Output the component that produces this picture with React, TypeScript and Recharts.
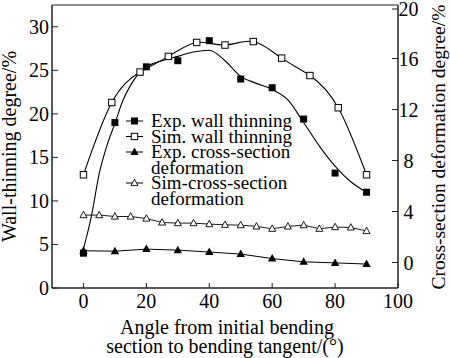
import React from 'react';
import { ComposedChart, Line, XAxis, YAxis, ReferenceArea } from 'recharts';

// measured points (angle in degrees)
const expAngles = [0, 10, 20, 30, 40, 50, 60, 70, 80, 90];
const expWall = [4.0, 19.0, 25.4, 26.1, 28.4, 24.0, 23.0, 19.4, 13.2, 11.0];
const expCross = [0.92, 0.89, 1.05, 0.97, 0.82, 0.66, 0.31, 0.05, -0.03, -0.12];

const simAngles = [0, 9, 18, 27, 36, 45, 54, 63, 72, 81, 90];
const simWall = [13.0, 21.3, 24.8, 26.6, 28.2, 27.9, 28.3, 26.4, 24.4, 20.7, 13.0];

const simCrossAngles = [0, 5, 10, 15, 20, 25, 30, 35, 40, 45, 50, 55, 60, 65, 70, 75, 80, 85, 90];
const simCross = [3.72, 3.72, 3.61, 3.61, 3.45, 3.14, 3.09, 3.09, 3.01, 2.96, 2.93, 2.83, 2.65, 2.83, 2.93, 2.65, 2.78, 2.75, 2.47];

// fitted curve through the experimental wall thinning
const fitAngles = [0, 2.5, 5, 7.5, 10, 12.5, 15, 17.5, 20, 25, 30, 35, 40, 45, 50, 55, 60, 65, 70, 75, 80, 85, 90];
const expFit = [4.5, 8.2, 13.1, 16.4, 18.9, 21.5, 23.3, 24.6, 25.4, 26.1, 26.6, 27.1, 27.3, 26.1, 24.3, 23.5, 22.8, 21.6, 19.0, 16.3, 14.0, 12.2, 11.0];

const xTicks = [0, 20, 40, 60, 80, 100];
const leftTicks = [0, 5, 10, 15, 20, 25, 30];
const rightTicks = [0, 4, 8, 12, 16, 20];

const legendItems = ['Exp. wall thinning', 'Sim. wall thinning', 'Exp. cross-section', 'deformation', 'Sim-cross-section', 'deformation'];

const zip = (xs: number[], ys: number[]) => xs.map((x, i) => ({ x, y: ys[i] }));

const txt = { fontFamily: 'Liberation Serif, DejaVu Serif, serif' };
const axisColor = '#222';

const FilledSquare = (p: any) => (
  <rect key={p.key ?? p.index} x={p.cx - 3.5} y={p.cy - 3.5} width={7} height={7} fill="#000" />
);
const OpenSquare = (p: any) => (
  <rect key={p.key ?? p.index} x={p.cx - 3.2} y={p.cy - 3.2} width={6.4} height={6.4} fill="#fff" stroke="#000" strokeWidth={1} />
);
const FilledTriangle = (p: any) => (
  <polygon key={p.key ?? p.index} points={`${p.cx},${p.cy - 4.5} ${p.cx + 4.2},${p.cy + 3} ${p.cx - 4.2},${p.cy + 3}`} fill="#000" />
);
const OpenTriangle = (p: any) => (
  <polygon key={p.key ?? p.index} points={`${p.cx},${p.cy - 3.8} ${p.cx + 3.5},${p.cy + 2.6} ${p.cx - 3.5},${p.cy + 2.6}`} fill="#fff" stroke="#000" strokeWidth={0.9} />
);

const BottomTick = (p: any) => (
  <g>
    <line x1={p.x} x2={p.x} y1={p.y} y2={p.y - 5} stroke={axisColor} />
    <text x={p.x} y={p.y + 19.5} textAnchor="middle" style={txt} fontSize={20} fill="#000">{p.payload.value}</text>
  </g>
);
const LeftTick = (p: any) => (
  <g>
    <line x1={p.x} x2={p.x + 6} y1={p.y} y2={p.y} stroke={axisColor} />
    <text x={p.x - 3} y={p.y + 7} textAnchor="end" style={txt} fontSize={20} fill="#000">{p.payload.value}</text>
  </g>
);
const RightTick = (p: any) => (
  <g>
    <line x1={p.x} x2={p.x - 6} y1={p.y} y2={p.y} stroke={axisColor} />
    <text x={p.x + 10.5} y={p.y + 7} textAnchor="middle" style={txt} fontSize={20} fill="#000">{p.payload.value}</text>
  </g>
);

const legendMarkers = [FilledSquare, OpenSquare, FilledTriangle, null, OpenTriangle, null];
const legendBaselines = [127, 142.5, 158, 173.5, 189, 205];

export default function App() {
  return (
    <div style={{ position: 'absolute', left: 0, top: 0, width: 450, height: 358, background: '#fff', ...txt }}>
      <ComposedChart width={450} height={358} margin={{ top: 5, right: 0, bottom: 0, left: 0 }}>
        <XAxis
          type="number"
          dataKey="x"
          domain={[-10, 100]}
          ticks={xTicks}
          height={70}
          tickSize={0}
          tickMargin={0}
          tickLine={false}
          tick={<BottomTick />}
          stroke={axisColor}
          allowDuplicatedCategory={false}
        />
        <YAxis
          yAxisId="left"
          type="number"
          domain={[0, 32.5]}
          ticks={leftTicks}
          width={52}
          tickSize={0}
          tickMargin={0}
          tickLine={false}
          tick={<LeftTick />}
          stroke={axisColor}
        />
        <YAxis
          yAxisId="right"
          orientation="right"
          type="number"
          domain={[-2, 20.2]}
          ticks={rightTicks}
          width={52}
          tickSize={0}
          tickMargin={0}
          tickLine={false}
          tick={<RightTick />}
          stroke={axisColor}
        />
        <ReferenceArea yAxisId="left" x1={-10} x2={100} y1={0} y2={32.5} fill="none" stroke={axisColor} strokeWidth={1} />
        <Line yAxisId="left" data={zip(fitAngles, expFit)} dataKey="y" type="monotone" stroke="#000" strokeWidth={1.1} dot={false} isAnimationActive={false} />
        <Line yAxisId="left" data={zip(simAngles, simWall)} dataKey="y" type="natural" stroke="#000" strokeWidth={1.1} dot={OpenSquare} activeDot={false} isAnimationActive={false} />
        <Line yAxisId="left" data={zip(expAngles, expWall)} dataKey="y" type="linear" stroke="none" dot={FilledSquare} activeDot={false} isAnimationActive={false} />
        <Line yAxisId="right" data={zip(expAngles, expCross)} dataKey="y" type="linear" stroke="#000" strokeWidth={1} dot={FilledTriangle} activeDot={false} isAnimationActive={false} />
        <Line yAxisId="right" data={zip(simCrossAngles, simCross)} dataKey="y" type="linear" stroke="#000" strokeWidth={0.9} dot={OpenTriangle} activeDot={false} isAnimationActive={false} />
      </ComposedChart>
      <svg width={450} height={358} style={{ position: 'absolute', left: 0, top: 0, pointerEvents: 'none' }}>
        {legendItems.map((t, i) => {
          const M = legendMarkers[i];
          const cy = legendBaselines[i] - 6;
          return (
            <g key={i}>
              {M && <line x1={126} x2={143} y1={cy} y2={cy} stroke="#000" strokeWidth={1} />}
              {M && <M cx={134.5} cy={cy} index={i} />}
              <text x={151} y={legendBaselines[i]} style={txt} fontSize={19} fill="#000">{t}</text>
            </g>
          );
        })}
        <text transform="translate(15.5,146.5) rotate(-90)" textAnchor="middle" style={txt} fontSize={20} fill="#000">Wall-thinning degree/%</text>
        <text transform="translate(445,147) rotate(-90)" textAnchor="middle" style={txt} fontSize={19.5} fill="#000">Cross-section deformation degree/%</text>
        <text x={227} y={333.5} textAnchor="middle" style={txt} fontSize={20} fill="#000">Angle from initial bending</text>
        <text x={225} y={353} textAnchor="middle" style={txt} fontSize={20} fill="#000">section to bending tangent/(°)</text>
      </svg>
    </div>
  );
}
